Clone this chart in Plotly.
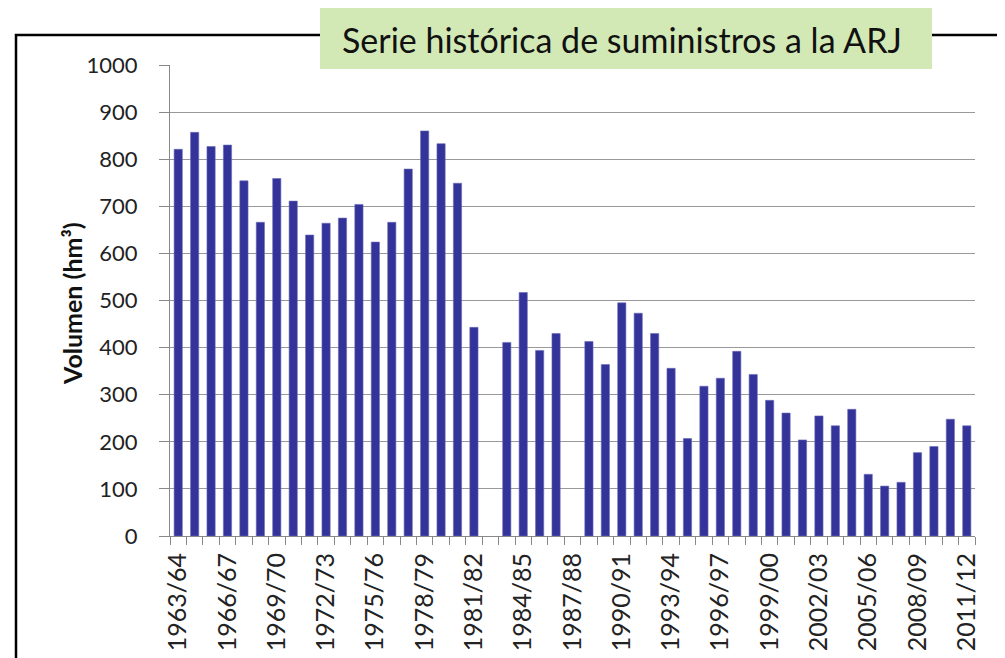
import plotly.graph_objects as go

campaigns = [f"{y}/{str(y + 1)[-2:]}" for y in range(1963, 2012)]
volumes = [821, 857, 827, 830, 754, 666, 759, 711, 639, 664,
           675, 704, 624, 666, 779, 860, 833, 749, 443, None,
           411, 517, 394, 430, None, 413, 364, 495, 473, 430,
           356, 207, 318, 335, 392, 343, 288, 261, 204, 255,
           234, 269, 131, 106, 114, 177, 190, 248, 234]
y_ticks = list(range(0, 1001, 100))
title_text = "Serie histórica de suministros a la ARJ"
y_title = "Volumen (hm³)"

# page is shown with an 8px body margin, so compensate
OFF = 8
W, H = 1005 - OFF, 658 - OFF
L, R, T, B = 170, 975, 65, 536   # plot area in window pixels

def px(x):
    return (x - L) / (R - L)

def py(y):
    return (B - y) / (B - T)

tick_text = [c if i % 3 == 0 else "" for i, c in enumerate(campaigns)]
FONT = "Lato"

fig = go.Figure(go.Bar(
    x=campaigns, y=volumes,
    marker=dict(color="#333399", line=dict(color="#6a6abb", width=0.6)),
    width=0.5,
))

fig.update_layout(
    width=W, height=H,
    margin=dict(l=L - OFF, r=(W + OFF) - R, t=T - OFF, b=(H + OFF) - B, pad=0,
                autoexpand=False),
    paper_bgcolor="white", plot_bgcolor="white",
    font=dict(family=FONT, color="#222"),
    showlegend=False,
    shapes=[
        dict(type="rect", xref="paper", yref="paper",
             x0=px(16), x1=px(1002), y0=py(720), y1=py(35),
             line=dict(color="black", width=2.5), fillcolor="rgba(0,0,0,0)", layer="above"),
        dict(type="rect", xref="paper", yref="paper",
             x0=px(320), x1=px(932), y0=py(69), y1=py(5),
             line=dict(width=0), fillcolor="#d2e9b5", layer="above"),
    ],
    annotations=[
        dict(text=title_text, xref="paper", yref="paper",
             x=px(622), y=py(39), xanchor="center", yanchor="middle",
             showarrow=False, font=dict(family=FONT, size=34, color="#111")),
        dict(text="<b>" + y_title + "</b>", xref="paper", yref="paper",
             x=px(72), y=py(304), xanchor="center", yanchor="middle",
             textangle=-90, showarrow=False,
             font=dict(family=FONT, size=25, color="#111")),
    ],
)

fig.update_xaxes(
    type="category", categoryorder="array", categoryarray=campaigns,
    tickvals=campaigns, ticktext=tick_text, tickangle=-90,
    tickson="boundaries", ticks="outside", ticklen=8, tickcolor="#888",
    showline=True, linecolor="#888", linewidth=1,
    showgrid=False, tickfont=dict(size=25, family=FONT, color="#222"),
    ticklabelstandoff=6, automargin=False,
)
fig.update_yaxes(
    range=[0, 1000], tickvals=y_ticks,
    ticks="outside", ticklen=10, tickcolor="#888",
    showline=True, linecolor="#888", linewidth=1,
    showgrid=True, gridcolor="#999", gridwidth=1,
    zeroline=False,
    tickfont=dict(size=22, family=FONT, color="#222"),
    ticklabelstandoff=17, automargin=False,
)

fig.write_html("out.html")
